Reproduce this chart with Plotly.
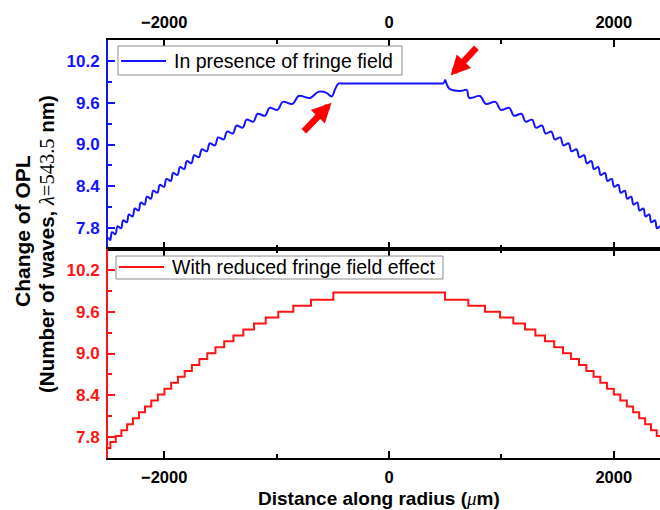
import plotly.graph_objects as go

# ---------------- data ----------------
# plateau levels (number of waves), from the centre outwards
levels = [9.875, 9.77, 9.685, 9.60, 9.515, 9.43, 9.345, 9.26, 9.175, 9.09, 9.005,
          8.92, 8.835, 8.75, 8.665, 8.58, 8.495, 8.41, 8.325, 8.24, 8.155, 8.07,
          7.985, 7.90, 7.815, 7.73, 7.645]
# step (riser) positions in um, measured from the centre
risers_left = [495, 694, 851, 985, 1097, 1201, 1296, 1384, 1466, 1544, 1617, 1687,
               1754, 1818, 1878, 1938, 1998, 2057, 2115, 2171, 2225, 2278, 2330,
               2381, 2431, 2479]
risers_right = [498, 706, 854, 988, 1106, 1210, 1302, 1388, 1470, 1548, 1620, 1690,
                1756, 1820, 1880, 1940, 2000, 2058, 2116, 2172, 2226, 2279, 2331,
                2382, 2431, 2480]
x_ends = [-2500, 2500]
# ripple of the fringe-field curve (waves)
blue_hump = 0.011
blue_dip = 0.017
# fringe-field curve near the central electrode
blue_center_x = [-629, -560, -510, -478, -451, -400, 0, 400, 451, 480, 490, 500, 515,
                 537, 580, 650, 692]
blue_center_y = [9.755, 9.745, 9.69, 9.80, 9.872, 9.875, 9.875, 9.875, 9.875, 9.876,
                 9.89, 9.925, 9.86, 9.80, 9.775, 9.77, 9.785]
# arrows (tail -> head) in data units of the upper panel
arrow_tail = [(-770, 9.17), (790, 10.41)]
arrow_head = [(-512, 9.60), (548, 9.99)]

x_ticks = [-2000, 0, 2000]
y_ticks = [7.8, 8.4, 9.0, 9.6, 10.2]

BLUE = "#1414ff"
RED = "#ff1414"
FONT = "Liberation Sans"

# ---------------- build the curves ----------------
n = len(levels) - 1
red_x = [x_ends[0]] + [-r for r in reversed(risers_left)] + risers_right + [x_ends[1]]
red_y = ([levels[n]] + [levels[k] for k in range(n - 1, -1, -1)]
         + [levels[k] for k in range(1, n + 1)] + [levels[n]])

blue_x, blue_y = [x_ends[0]], [levels[n] - 0.01]
for i in range(n, 1, -1):  # left side, outside -> inside
    L = levels[i]
    a = x_ends[0] if i == n else -risers_left[i]
    b = -risers_left[i - 1]
    w = b - a
    blue_x += [a + 0.3 * w, b - 0.05 * w]
    blue_y += [L + blue_hump, L - blue_dip]
blue_x += blue_center_x
blue_y += blue_center_y
for i in range(2, n + 1):  # right side, inside -> outside
    L = levels[i]
    a = risers_right[i - 1]
    b = x_ends[1] if i == n else risers_right[i]
    w = b - a
    blue_x += [a + 0.05 * w, b - 0.3 * w]
    blue_y += [L - blue_dip, L + blue_hump]
blue_x.append(x_ends[1])
blue_y.append(levels[n] - 0.01)

# ---------------- figure ----------------
W, H = 660, 510
ML, MR, MT, MB = 108, 0, 40, 52
PW, PH = W - ML - MR, H - MT - MB


def px(xp):
    return (xp - ML) / PW


def py(yp):
    return (MT + PH - yp) / PH


fig = go.Figure()
fig.add_trace(go.Scatter(x=blue_x, y=blue_y, mode="lines", xaxis="x", yaxis="y",
                         line=dict(color=BLUE, width=2, shape="spline", smoothing=1.0),
                         name="In presence of fringe field", showlegend=False))
fig.add_trace(go.Scatter(x=red_x, y=red_y, mode="lines", xaxis="x2", yaxis="y2",
                         line=dict(color=RED, width=2, shape="hv"),
                         name="With reduced fringe field effect", showlegend=False))

xr = [-2500, -2500 + PW / 0.1124]
common_x = dict(range=xr, tickvals=x_ticks, ticks="inside", ticklen=7, tickwidth=2,
                tickcolor="black", showline=True, linecolor="black", linewidth=2,
                mirror="ticks", showgrid=False, zeroline=False,
                minor=dict(dtick=1000, tick0=0, ticks="inside", ticklen=4, tickwidth=2,
                           tickcolor="black", showgrid=False),
                tickfont=dict(family=FONT, size=16.5, color="black", weight="bold"),
                ticklabelstandoff=3)


def yax(color, dom, anchor):
    return dict(domain=dom, anchor=anchor, range=[7.5, 10.5], tickvals=y_ticks,
                tickformat=".1f", ticks="inside", ticklen=7, tickwidth=2,
                tickcolor=color, showline=True, linecolor=color, linewidth=2,
                mirror=False, showgrid=False, zeroline=False,
                minor=dict(dtick=0.3, tick0=7.8, ticks="inside", ticklen=4, tickwidth=2,
                           tickcolor=color, showgrid=False),
                tickfont=dict(family=FONT, size=17, color=color, weight="bold"),
                ticklabelstandoff=3)


fig.update_layout(
    width=W, height=H, margin=dict(l=ML, r=MR, t=MT, b=MB),
    paper_bgcolor="white", plot_bgcolor="white",
    xaxis=dict(domain=[0, 1], anchor="y", side="top", **common_x),
    xaxis2=dict(domain=[0, 1], anchor="y2", side="bottom", **common_x),
    yaxis=yax(BLUE, [0.5, 1], "x"),
    yaxis2=yax(RED, [0, 0.5], "x2"),
)

shapes = []
annotations = []
# legend boxes (drawn by hand to match the original)
legends = [
    (118, 46, 402, 75, 121, 166, 61, BLUE, "In presence of fringe field"),
    (116, 256, 443, 279, 119, 164, 267, RED, "With reduced fringe field effect"),
]
for (x0, y0, x1, y1, lx0, lx1, ly, col, txt) in legends:
    shapes.append(dict(type="rect", xref="paper", yref="paper", x0=px(x0), x1=px(x1),
                       y0=py(y1), y1=py(y0), line=dict(color="#8c8c8c", width=1),
                       fillcolor="white", layer="above"))
    shapes.append(dict(type="line", xref="paper", yref="paper", x0=px(lx0), x1=px(lx1),
                       y0=py(ly), y1=py(ly), line=dict(color=col, width=2), layer="above"))
    annotations.append(dict(xref="paper", yref="paper", x=px(lx1 + 6), y=py(ly),
                            xanchor="left", yanchor="middle", showarrow=False, text=txt,
                            font=dict(family=FONT, size=19.5, color="black")))

# axis titles
annotations.append(dict(xref="paper", yref="paper", x=px(379), y=py(498),
                        xanchor="center", yanchor="middle", showarrow=False,
                        text="Distance along radius (<span style='font-family:Liberation Serif;font-style:italic;font-weight:normal'>μ</span>m)",
                        font=dict(family=FONT, size=19, color="black", weight="bold")))
annotations.append(dict(xref="paper", yref="paper", x=px(22), y=py(231),
                        xanchor="center", yanchor="middle", showarrow=False, textangle=-90,
                        text="Change of OPL",
                        font=dict(family=FONT, size=21, color="black", weight="bold")))
annotations.append(dict(xref="paper", yref="paper", x=px(46), y=py(244),
                        xanchor="center", yanchor="middle", showarrow=False, textangle=-90,
                        text="(Number of waves, <span style='font-family:Liberation Serif;font-style:italic;font-weight:normal'>λ</span><span style='font-family:Liberation Serif;font-weight:normal'>=543.5</span> nm)",
                        font=dict(family=FONT, size=20.5, color="black", weight="bold")))
# red arrows
for (tx, ty), (hx, hy) in zip(arrow_tail, arrow_head):
    annotations.append(dict(xref="x", yref="y", axref="x", ayref="y", x=hx, y=hy,
                            ax=tx, ay=ty, text="", showarrow=True, arrowhead=2,
                            arrowsize=0.6, arrowwidth=6.5, arrowcolor="#ff0000"))

fig.update_layout(shapes=shapes, annotations=annotations)
fig.write_html("out.html")
